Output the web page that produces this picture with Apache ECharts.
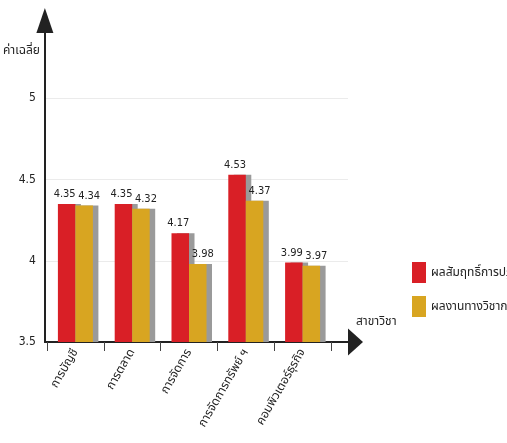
<!DOCTYPE html>
<html>
<head>
<meta charset="utf-8">
<script src="https://cdn.jsdelivr.net/npm/echarts@6/dist/echarts.min.js"></script>
<style>
html,body{margin:0;padding:0;background:#ffffff;}
#chart{width:507px;height:443px;}
</style>
</head>
<body>
<div id="chart"></div>
<script>
// ---- data ----
const categories = ['การบัญชี', 'การตลาด', 'การจัดการ', 'การจัดการทรัพย์ ฯ', 'คอมพิวเตอร์ธุรกิจ'];
const seriesNames = ['ผลสัมฤทธิ์การปฏิบัติ', 'ผลงานทางวิชาการ'];
const practiceScores = [4.35, 4.35, 4.17, 4.53, 3.99];
const academicScores = [4.34, 4.32, 3.98, 4.37, 3.97];
const yMin = 3.5;
const yMax = 5.5;
const yStep = 0.5;
const yAxisTitle = 'ค่าเฉลี่ย';
const xAxisTitle = 'สาขาวิชา';

const FONT = "'DejaVu Sans Condensed', 'Liberation Sans Narrow', 'Noto Sans Thai', 'Noto Sans', sans-serif";
const INK = '#222222';

const chart = echarts.init(document.getElementById('chart'), null, {renderer: 'canvas'});

function barSeries(name, data, color, labelShift) {
  return {
    name: name,
    type: 'bar',
    xAxisIndex: 1,
    yAxisIndex: 1,
    data: data,
    barWidth: 17.5,
    barGap: '0%',
    itemStyle: {
      color: color,
      shadowColor: '#9a9a9a',
      shadowOffsetX: 5.5,
      shadowOffsetY: 0,
      shadowBlur: 0
    },
    label: {
      show: true,
      position: 'top',
      distance: 4,
      offset: [labelShift, 0],
      color: INK,
      fontFamily: FONT,
      fontSize: 11,
      formatter: p => p.value.toFixed(2)
    },
    emphasis: {disabled: true}
  };
}

chart.setOption({
  backgroundColor: '#ffffff',
  animation: false,
  textStyle: {fontFamily: FONT},
  legend: {
    orient: 'vertical',
    left: 412,
    top: 262,
    itemWidth: 14,
    itemHeight: 21,
    itemGap: 13,
    padding: 0,
    icon: 'rect',
    itemStyle: {shadowBlur: 0, shadowOffsetX: 0, shadowColor: 'transparent'},
    textStyle: {color: INK, fontSize: 12, fontFamily: FONT},
    data: seriesNames
  },
  grid: [
    {left: 42, right: 159, top: 17, bottom: 101},
    {left: 47, right: 176, top: 17, bottom: 101}
  ],
  xAxis: [
    {
      gridIndex: 0,
      type: 'value',
      min: 0,
      max: 1,
      axisLine: {
        show: true,
        lineStyle: {color: INK, width: 2},
        symbol: ['none', 'triangle'],
        symbolSize: [27, 15],
        symbolOffset: [0, 7.5]
      },
      axisTick: {show: false},
      axisLabel: {show: false},
      splitLine: {show: false},
      name: xAxisTitle,
      nameLocation: 'end',
      nameGap: 8,
      nameTextStyle: {
        color: INK, fontSize: 12, fontFamily: FONT,
        align: 'left', verticalAlign: 'bottom', padding: [0, 0, 14, 0]
      }
    },
    {
      gridIndex: 1,
      type: 'category',
      data: categories,
      axisLine: {show: false},
      axisTick: {show: true, length: 9, lineStyle: {color: '#444', width: 1}},
      axisLabel: {
        interval: 0,
        rotate: 60,
        margin: 8,
        color: INK,
        fontSize: 12,
        fontFamily: FONT
      },
      splitLine: {show: false}
    }
  ],
  yAxis: [
    {
      gridIndex: 0,
      type: 'value',
      min: yMin,
      max: yMax,
      interval: yStep,
      axisLine: {
        show: true,
        lineStyle: {color: INK, width: 2},
        symbol: ['none', 'triangle'],
        symbolSize: [17, 25],
        symbolOffset: [0, -3.5]
      },
      axisTick: {show: false},
      axisLabel: {
        show: true,
        showMaxLabel: false,
        color: INK,
        fontSize: 12,
        fontFamily: FONT,
        margin: 9,
        formatter: v => String(v)
      },
      splitLine: {
        show: true,
        showMaxLine: false,
        lineStyle: {color: '#ebebeb', width: 1}
      },
      name: yAxisTitle,
      nameLocation: 'end',
      nameGap: -34,
      nameTextStyle: {
        color: INK, fontSize: 12, fontFamily: FONT,
        align: 'right', verticalAlign: 'middle', padding: [0, 5, 0, 0]
      }
    },
    {
      gridIndex: 1,
      type: 'value',
      min: yMin,
      max: yMax,
      interval: yStep,
      show: false
    }
  ],
  series: [
    barSeries(seriesNames[0], practiceScores, '#d91f26', -2),
    barSeries(seriesNames[1], academicScores, '#d8a521', 5)
  ]
});
</script>
</body>
</html>
